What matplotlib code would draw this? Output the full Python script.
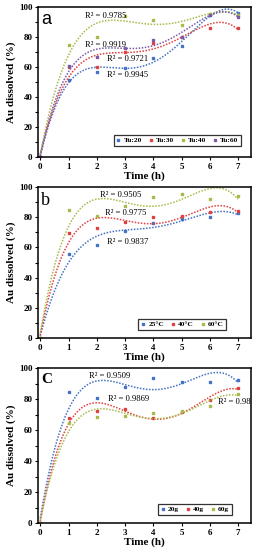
import numpy as np
import matplotlib
matplotlib.use("Agg")
import matplotlib.pyplot as plt

t = [0, 1, 2, 3, 4, 5, 6, 7]

# Panel a: thiourea concentration
a_labels = ["Tu:20", "Tu:30", "Tu:40", "Tu:60"]
a_tu20 = [0, 51.5, 57, 59.5, 66, 74, 95, 96]
a_tu30 = [0, 60, 60, 70, 76, 80, 86, 86]
a_tu40 = [0, 74.5, 80, 94, 91.5, 88, 95.5, 95]
a_tu60 = [0, 60.5, 67, 73, 78, 80, 95, 93.5]
a_r2 = ["0.9945", "0.9721", "0.9785", "0.9919"]

# Panel b: temperature
b_labels = ["25°C", "40°C", "60°C"]
b_25 = [0, 55.4, 61.6, 71, 76.3, 78.6, 80, 82.6]
b_40 = [0, 69.7, 72.6, 76.6, 80, 81, 83.2, 84.3]
b_60 = [0, 84.8, 81, 87.6, 93.6, 95.4, 92, 94.2]
b_r2 = ["0.9837", "0.9775", "0.9505"]

# Panel c: mass
c_labels = ["20g", "40g", "60g"]
c_20 = [0, 84.3, 80.4, 87.5, 93.3, 91.2, 91.2, 92.3]
c_40 = [0, 68, 72.5, 73.4, 68, 71.8, 79.4, 86.9]
c_60 = [0, 64.5, 68.2, 69, 71.2, 72, 75.5, 83.2]
c_r2 = ["0.9509", "0.9869", "0.98"]

yticks = [0, 20, 40, 60, 80, 100]
xticks = [0, 1, 2, 3, 4, 5, 6, 7]

BLUE = "#4472C4"
RED = "#E0413F"
GREEN = "#A9BA4A"
PURPLE = "#7A5AA6"

plt.rcParams['font.family'] = ['Liberation Serif', 'DejaVu Serif']

fig = plt.figure(figsize=(2.58, 5.5), dpi=100)
W, H = 258, 550

def make_ax(top, bottom, left=38, right=251):
    return fig.add_axes([left / W, 1 - bottom / H, (right - left) / W, (bottom - top) / H])

def style(ax, letter, letter_kw):
    ax.set_xlim(-0.08, 7.46)
    ax.set_ylim(0, 100)
    ax.set_xticks(xticks)
    ax.set_yticks(yticks)
    ax.set_yticks(np.arange(10, 100, 20), minor=True)
    for lab in ax.get_xticklabels() + ax.get_yticklabels():
        lab.set_fontweight('bold')
    ax.tick_params(axis='both', which='both', direction='out', length=2.5, width=0.8,
                   labelsize=6.5, pad=1.5)
    for s in ax.spines.values():
        s.set_linewidth(1.1)
    ax.set_xlabel("Time (h)", fontsize=8, fontweight='bold', labelpad=0.5)
    ax.set_ylabel("Au dissolved (%)", fontsize=8, fontweight='bold', labelpad=2)
    ax.text(0.015, 0.97, letter, transform=ax.transAxes, va='top', ha='left', **letter_kw)

def series(ax, y, color, label):
    y = np.array(y, dtype=float)
    x = np.array(t, dtype=float)
    coef = np.polyfit(x, y, 4)
    xx = np.linspace(0, 7, 200)
    ax.plot(xx, np.polyval(coef, xx), linestyle=(0, (1, 1)), color=color, linewidth=1.1)
    ax.plot(x, y, linestyle='none', marker='s', markersize=1.8, color=color, label=label)

def legend(ax, ncol, bbox):
    leg = ax.legend(ncol=ncol, loc='lower right', bbox_to_anchor=bbox, frameon=True,
                    fancybox=False, edgecolor='black', prop={'weight': 'bold', 'size': 5.3},
                    handlelength=0.6, handletextpad=0.4, columnspacing=0.9,
                    borderpad=0.35, borderaxespad=0.0, markerscale=1.0)
    leg.get_frame().set_linewidth(0.9)

# ---- Panel a
ax = make_ax(7, 157)
for y, c, l in zip([a_tu20, a_tu30, a_tu40, a_tu60], [BLUE, RED, GREEN, PURPLE], a_labels):
    series(ax, y, c, l)
for x0, y0, r in [(2.36, 54.7, a_r2[0]), (2.36, 65.1, a_r2[1]), (1.57, 94.2, a_r2[2]), (1.6, 74.7, a_r2[3])]:
    ax.text(x0, y0, "R² = " + r, fontsize=6.2, va='center', ha='left')
style(ax, "a", dict(fontsize=13, family=['Liberation Sans', 'DejaVu Sans']))
legend(ax, 4, (0.953, 0.073))

# ---- Panel b
ax = make_ax(187, 338)
for y, c, l in zip([b_25, b_40, b_60], [BLUE, RED, GREEN], b_labels):
    series(ax, y, c, l)
for x0, y0, r in [(2.36, 63.8, b_r2[0]), (2.3, 82.6, b_r2[1]), (2.13, 94.7, b_r2[2])]:
    ax.text(x0, y0, "R² = " + r, fontsize=6.2, va='center', ha='left')
style(ax, "b", dict(fontsize=13))
legend(ax, 3, (0.883, 0.053))

# ---- Panel c
ax = make_ax(368, 523)
for y, c, l in zip([c_20, c_40, c_60], [BLUE, RED, GREEN], c_labels):
    series(ax, y, c, l)
for x0, y0, r in [(1.71, 94.8, c_r2[0]), (2.4, 79.8, c_r2[1]), (6.29, 77.9, c_r2[2])]:
    ax.text(x0, y0, "R² = " + r, fontsize=6.2, va='center', ha='left')
style(ax, "C", dict(fontsize=11, fontweight='bold'))
legend(ax, 3, (0.909, 0.052))

fig.savefig("out.png", dpi=100)
